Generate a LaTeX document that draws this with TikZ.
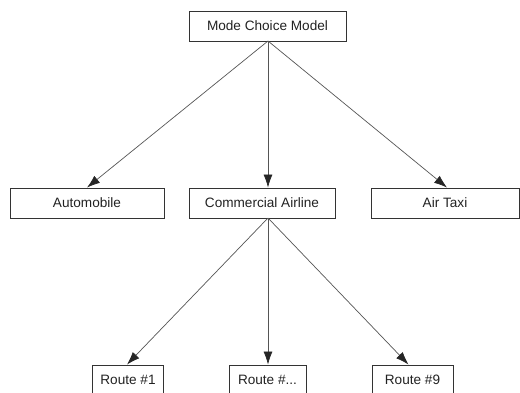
\documentclass[tikz,border=0pt]{standalone}
\usepackage{fontspec}
\setmainfont{Liberation Sans}
\usetikzlibrary{arrows.meta}
\definecolor{boxline}{HTML}{333333}
\definecolor{conn}{HTML}{555555}
\definecolor{txt}{HTML}{222222}
\begin{document}
\begin{tikzpicture}[x=1pt,y=-1pt,
  box/.style={draw=boxline,line width=0.9pt,rectangle,minimum height=30pt,inner sep=0pt,
    text=txt,font=\fontsize{13.6}{15}\selectfont},
  conn/.style={draw=conn,line width=0.7pt,-{Latex[length=13pt,width=9pt,fill=black!85,color=black!85]}}]
\useasboundingbox (0,0) rectangle (520,392);
\clip (0,0) rectangle (520,392);
\node[box,minimum width=157pt] (top) at (267.5,26) {Mode Choice Model};
\node[box,minimum width=154pt] (auto) at (87,203) {Automobile};
\node[box,minimum width=146pt] (ca) at (262,203) {Commercial Airline};
\node[box,minimum width=148pt] (taxi) at (445,203) {Air Taxi};
\node[box,minimum width=71pt] (r1) at (128,380) {Route \#1};
\node[box,minimum width=77pt] (rx) at (267.5,380) {Route \#...};
\node[box,minimum width=81pt] (r9) at (412.5,380) {Route \#9};
\coordinate (s1) at (268,41);
\coordinate (s2) at (268,218);
\draw[conn] (s1) -- (auto.north);
\draw[conn] (s1) -- (s1 |- ca.north);
\draw[conn] (s1) -- ([xshift=2pt]taxi.north);
\draw[conn] (s2) -- ([xshift=-1pt]r1.north);
\draw[conn] (s2) -- (s2 |- rx.north);
\draw[conn] (s2) -- ([xshift=-4pt]r9.north);
\end{tikzpicture}
\end{document}
